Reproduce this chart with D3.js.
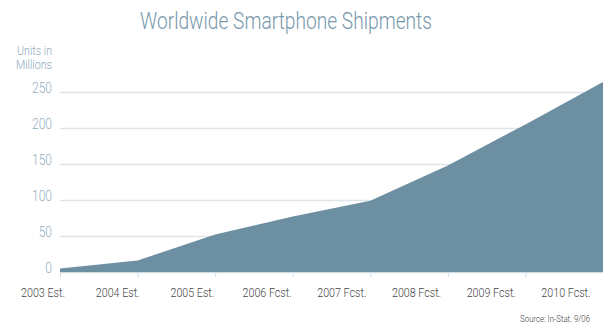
<!DOCTYPE html>
<html>
<head>
<meta charset="utf-8">
<script src="https://cdn.jsdelivr.net/npm/d3@7"></script>
<style>
  html, body { margin: 0; padding: 0; background: #fff; }
  svg { display: block; }
  text { font-family: Roboto, "Liberation Sans", sans-serif; font-weight: 300; }
</style>
</head>
<body>
<svg id="chart" width="603" height="324"></svg>
<script>
// Worldwide smartphone shipments, millions of units
const years = ["2003 Est.", "2004 Est.", "2005 Est.", "2006 Fcst.", "2007 Fcst.", "2008 Fcst.", "2009 Fcst.", "2010 Fcst."];
const shipments = [5, 16, 52, 77, 99, 148, 205, 264];
const yTicks = [0, 50, 100, 150, 200, 250];
const titleText = "Worldwide Smartphone Shipments";
const unitLines = ["Units in", "Millions"];
const sourceText = "Source: In-Stat. 9/06";

const svg = d3.select("#chart");
const W = 603;

const x = d3.scalePoint().domain(years).range([60, 603]).padding(0);
const xLabel = d3.scalePoint().domain(years).range([43, 566]).padding(0);
const y = d3.scaleLinear().domain([0, 250]).range([272, 92]);

// Condensed-face look: squeeze text horizontally around its anchor point.
function condensed(g, x0, y0, sx) {
  return g.attr("transform", `translate(${x0},${y0}) scale(${sx},1)`);
}

// Title
const tg = condensed(svg.append("g"), 286, 29, 1);
const title = tg.append("text")
  .attr("text-anchor", "middle")
  .attr("font-size", 23.5)
  .attr("fill", "#7898ac")
  .text(titleText);
const tw = title.node().getComputedTextLength();
condensed(tg, 286, 29, 292 / tw);

// Axis unit label
const unitG = svg.append("g");
unitLines.forEach((s, i) => {
  const g = condensed(unitG.append("g"), 52, 55 + i * 14, 1);
  const t = g.append("text").attr("text-anchor", "end")
    .attr("font-size", 13).attr("fill", "#8ea8ba").text(s);
  if (i === 0) unitG.attr("data-sx", 35 / t.node().getComputedTextLength());
});
const unitSx = +unitG.attr("data-sx");
unitG.selectAll(":scope > g").each(function(d, i) {
  condensed(d3.select(this), 52, 55 + i * 14, unitSx);
});

// Horizontal gridlines + value labels
const yAxis = d3.axisLeft(y).tickValues(yTicks).tickSize(-(W - 60)).tickFormat("");
const gy = svg.append("g").attr("transform", "translate(60,0)").call(yAxis);
gy.select(".domain").remove();
gy.selectAll(".tick line").attr("stroke", "#dde5eb").attr("stroke-width", 1.3);

const yLab = svg.append("g");
yTicks.forEach(v => {
  const g = condensed(yLab.append("g").datum(v), 52, y(v) + 1, 1);
  g.append("text").attr("text-anchor", "end")
    .attr("font-size", 14).attr("fill", "#93adbf").text(v);
});
const w250 = yLab.selectAll("text").filter(d => d === 250).node().getComputedTextLength();
yLab.selectAll(":scope > g").each(function(v) {
  condensed(d3.select(this), 52, y(v) + 1, 20 / w250);
});

// Area
const area = d3.area()
  .x((d, i) => x(years[i]))
  .y0(y(0))
  .y1(d => y(d));
svg.append("path")
  .datum(shipments)
  .attr("d", area)
  .attr("fill", "#6d8fa2");

// Baseline ticks
const xAxis = d3.axisBottom(x).tickSize(5).tickFormat("");
const gx = svg.append("g").attr("transform", `translate(0,${y(0)})`).call(xAxis);
gx.select(".domain").attr("stroke", "#cfd9e0").attr("stroke-width", 1);
gx.selectAll(".tick line").attr("stroke", "#d3dce3");

// Category labels
const xLab = svg.append("g");
years.forEach(c => {
  const g = condensed(xLab.append("g").datum(c), xLabel(c), 297, 1);
  g.append("text").attr("text-anchor", "middle")
    .attr("font-size", 12.5).attr("font-weight", 400).attr("fill", "#474747").text(c);
});
const w2003 = xLab.select("text").node().getComputedTextLength();
xLab.selectAll(":scope > g").each(function(c) {
  condensed(d3.select(this), xLabel(c), 297, 44 / w2003);
});

// Source note
const sg = condensed(svg.append("g"), 590, 322, 1);
const src = sg.append("text").attr("text-anchor", "end")
  .attr("font-size", 9).attr("font-weight", 400).attr("fill", "#3a3a3a").text(sourceText);
condensed(sg, 590, 322, 70 / src.node().getComputedTextLength());
</script>
</body>
</html>
